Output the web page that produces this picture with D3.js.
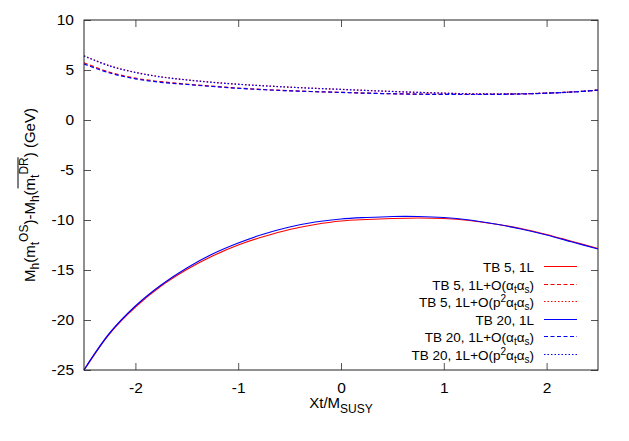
<!DOCTYPE html>
<html>
<head>
<meta charset="utf-8">
<script src="https://cdn.jsdelivr.net/npm/d3@7"></script>
<style>
  body { margin: 0; background: #fff; }
  svg { font-family: "Liberation Sans", Arial, sans-serif; }
</style>
</head>
<body>
<svg width="629" height="441"></svg>
<script>
// Xt/MSUSY sample points
const xt = [-2.5, -2.25, -2.0, -1.75, -1.5, -1.25, -1.0, -0.75, -0.5, -0.25, 0,
            0.25, 0.5, 0.75, 1.0, 1.25, 1.5, 1.75, 2.0, 2.25, 2.5];

// mass differences (GeV)
const tb5_1L   = [-25.0, -21.35, -18.7, -16.6, -14.95, -13.6, -12.5, -11.65, -10.95, -10.45, -10.1,
                  -9.95, -9.85, -9.8, -9.85, -10.05, -10.4, -10.85, -11.45, -12.15, -12.85];
const tb5_as   = [5.72, 4.78, 4.18, 3.83, 3.59, 3.38, 3.19, 3.05, 2.93, 2.84, 2.77,
                  2.69, 2.63, 2.59, 2.57, 2.56, 2.57, 2.61, 2.69, 2.81, 2.98];
const tb5_p2   = [6.42, 5.42, 4.77, 4.32, 4.02, 3.78, 3.58, 3.43, 3.29, 3.17, 3.07,
                  2.96, 2.86, 2.77, 2.69, 2.63, 2.61, 2.63, 2.69, 2.81, 2.99];
const tb20_1L  = [-25.0, -21.3, -18.6, -16.5, -14.8, -13.4, -12.3, -11.4, -10.7, -10.2, -9.9,
                  -9.75, -9.65, -9.65, -9.75, -10.0, -10.4, -10.9, -11.5, -12.2, -12.9];
const tb20_as  = [5.6, 4.7, 4.12, 3.77, 3.55, 3.35, 3.17, 3.03, 2.92, 2.83, 2.76,
                  2.68, 2.62, 2.58, 2.56, 2.55, 2.56, 2.6, 2.68, 2.8, 2.98];
const tb20_p2  = [6.4, 5.4, 4.75, 4.3, 4.0, 3.76, 3.57, 3.41, 3.28, 3.16, 3.06,
                  2.95, 2.85, 2.76, 2.68, 2.62, 2.6, 2.62, 2.68, 2.8, 2.98];

const xTicks = [-2, -1, 0, 1, 2];
const yTicks = [10, 5, 0, -5, -10, -15, -20, -25];

const series = [
  { label: "TB 5, 1L", kind: "1L", values: tb5_1L, color: "#ff0000", dash: null },
  { label: "TB 5, 1L+O(αtαs)", kind: "as", values: tb5_as, color: "#ff0000", dash: "4,2.5" },
  { label: "TB 5, 1L+O(p2αtαs)", kind: "p2", values: tb5_p2, color: "#ff0000", dash: "1.5,2" },
  { label: "TB 20, 1L", kind: "1L", values: tb20_1L, color: "#0000ff", dash: null },
  { label: "TB 20, 1L+O(αtαs)", kind: "as", values: tb20_as, color: "#0000ff", dash: "4,2.5" },
  { label: "TB 20, 1L+O(p2αtαs)", kind: "p2", values: tb20_p2, color: "#0000ff", dash: "1.5,2" }
];

function run() {
  let svg = d3.select("svg");
  let pLeft = 84, pRight = 598, pTop = 20, pBottom = 370;

  let x = d3.scaleLinear().domain([-2.5, 2.5]).range([pLeft, pRight]);
  let y = d3.scaleLinear().domain([-25, 10]).range([pBottom, pTop]);

  // ticks, mirrored on all four sides (gnuplot style), plain hyphen minus
  let tickLen = 7;
  let fmt = d => String(d);
  let g = svg.append("g");
  g.append("g")
    .attr("transform", `translate(0,${pBottom})`)
    .call(d3.axisBottom(x).tickValues(xTicks).tickSizeInner(-tickLen).tickSizeOuter(0).tickPadding(12).tickFormat(fmt));
  g.append("g")
    .attr("transform", `translate(0,${pTop})`)
    .call(d3.axisTop(x).tickValues(xTicks).tickSizeInner(-tickLen).tickSizeOuter(0).tickFormat(""));
  g.append("g")
    .attr("transform", `translate(${pLeft},0)`)
    .call(d3.axisLeft(y).tickValues(yTicks).tickSizeInner(-tickLen).tickSizeOuter(0).tickPadding(10).tickFormat(fmt));
  g.append("g")
    .attr("transform", `translate(${pRight},0)`)
    .call(d3.axisRight(y).tickValues(yTicks).tickSizeInner(-tickLen).tickSizeOuter(0).tickFormat(""));
  g.selectAll(".domain").remove();
  g.selectAll(".tick line").attr("stroke", "#555").attr("stroke-width", 1);
  g.selectAll(".tick text").attr("fill", "#000").attr("font-size", 15.5)
    .attr("font-family", "'Liberation Sans', Arial, sans-serif");

  // curves
  let line = d3.line().x((d, i) => x(xt[i])).y(d => y(d)).curve(d3.curveCatmullRom.alpha(0.5));
  series.forEach(s => {
    svg.append("path")
      .datum(s.values)
      .attr("d", line)
      .attr("fill", "none")
      .attr("stroke", s.color)
      .attr("stroke-width", 1.2)
      .attr("stroke-dasharray", s.dash);
  });

  // frame
  svg.append("rect")
    .attr("x", pLeft).attr("y", pTop)
    .attr("width", pRight - pLeft).attr("height", pBottom - pTop)
    .attr("fill", "none").attr("stroke", "#222").attr("stroke-width", 1);

  // legend
  let legY0 = 266, legStep = 17.5;
  let leg = svg.append("g").attr("font-size", 13.5);
  series.forEach((s, i) => {
    let ly = Math.round(legY0 + i * legStep) + 0.5;
    let t = leg.append("text").attr("x", 534).attr("y", ly + 5).attr("text-anchor", "end");
    if (s.kind === "1L") {
      t.text(s.label);
    } else {
      let base = s.label.split(", ")[0] + ", 1L+O(";
      t.append("tspan").text(base);
      if (s.kind === "p2") {
        t.append("tspan").text("p");
        t.append("tspan").attr("dy", -5).attr("font-size", 10).text("2");
        t.append("tspan").attr("dy", 5).text("α");
      } else {
        t.append("tspan").text("α");
      }
      t.append("tspan").attr("dy", 3).attr("font-size", 10).text("t");
      t.append("tspan").attr("dy", -3).text("α");
      t.append("tspan").attr("dy", 3).attr("font-size", 10).text("s");
      t.append("tspan").attr("dy", -3).text(")");
    }
    leg.append("line")
      .attr("x1", 544).attr("x2", 577).attr("y1", ly).attr("y2", ly)
      .attr("stroke", s.color).attr("stroke-width", 1.2)
      .attr("stroke-dasharray", s.dash);
  });

  // x axis label
  let xl = svg.append("text").attr("x", 341).attr("y", 408).attr("text-anchor", "middle").attr("font-size", 15);
  xl.append("tspan").text("Xt/M");
  xl.append("tspan").attr("dy", 5).attr("font-size", 12).text("SUSY");

  // y axis label
  let yg = svg.append("g").attr("transform", "translate(35,195) rotate(-90)");
  let yl = yg.append("text").attr("x", 0).attr("y", 0).attr("text-anchor", "middle").attr("font-size", 15);
  yl.append("tspan").text("M");
  yl.append("tspan").attr("dy", 4).attr("font-size", 12).text("h");
  yl.append("tspan").attr("dy", -4).text("(m");
  yl.append("tspan").attr("dy", 4).attr("font-size", 12).text("t");
  yl.append("tspan").attr("dy", -11).attr("font-size", 12).text("OS");
  yl.append("tspan").attr("dy", 7).text(")-M");
  yl.append("tspan").attr("dy", 4).attr("font-size", 12).text("h");
  yl.append("tspan").attr("dy", -4).text("(m");
  yl.append("tspan").attr("dy", 4).attr("font-size", 12).text("t");
  yl.append("tspan").attr("dy", -11).attr("font-size", 12).text("DR");
  yl.append("tspan").attr("dy", 7).text(") (GeV)");

  // overline over the DR-bar top mass
  let node = yl.node();
  let e0 = node.getExtentOfChar(12), e1 = node.getExtentOfChar(15);
  yg.append("line")
    .attr("x1", e0.x + 2).attr("x2", e1.x + e1.width)
    .attr("y1", e1.y + 1).attr("y2", e1.y + 1)
    .attr("stroke", "#000").attr("stroke-width", 1);
}

run();
</script>
</body>
</html>
